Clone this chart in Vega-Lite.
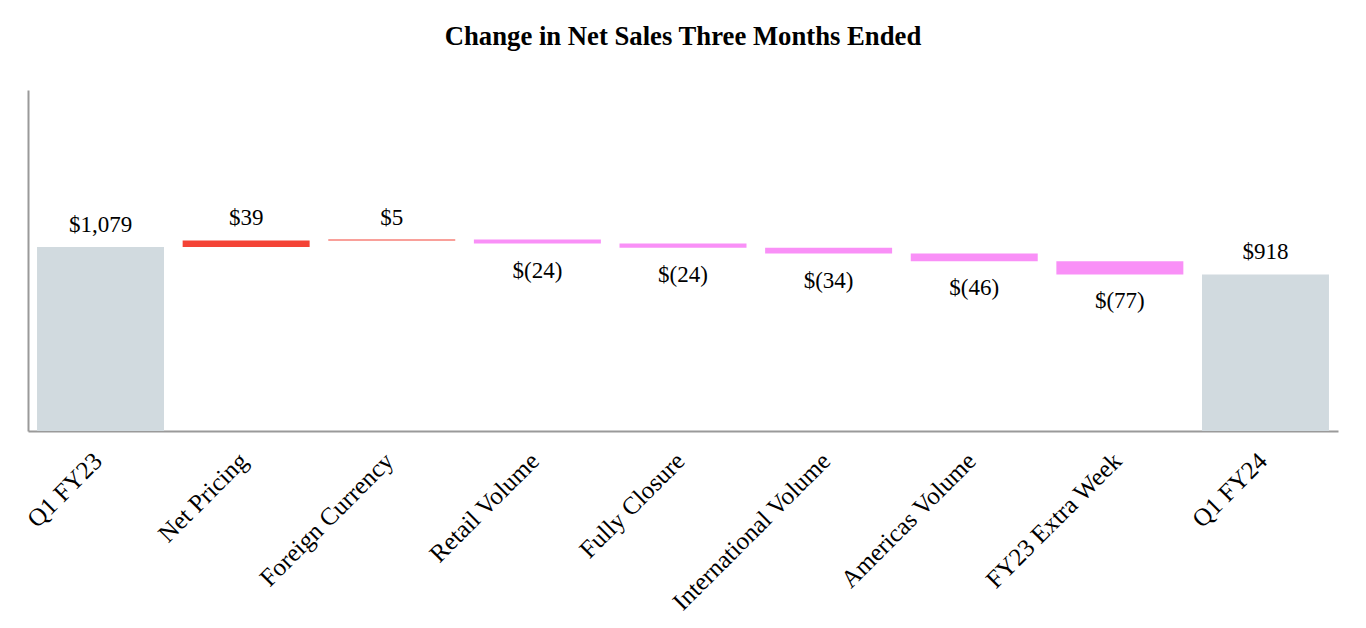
{
  "$schema": "https://vega.github.io/schema/vega-lite/v6.json",
  "width": 1310,
  "height": 341,
  "autosize": {"type": "none"},
  "padding": {"left": 28, "top": 90, "right": 28, "bottom": 197},
  "background": "white",
  "title": {
    "text": "Change in Net Sales Three Months Ended",
    "font": "Liberation Serif",
    "fontSize": 26.7,
    "fontWeight": "bold",
    "color": "black",
    "anchor": "middle",
    "baseline": "alphabetic",
    "offset": 18
  },
  "data": {
    "values": [
      {"category": "Q1 FY23", "start": 0, "end": 1079, "label": "$1,079", "kind": "total"},
      {"category": "Net Pricing", "start": 1079, "end": 1118, "label": "$39", "kind": "increase"},
      {"category": "Foreign Currency", "start": 1118, "end": 1123, "label": "$5", "kind": "increase"},
      {"category": "Retail Volume", "start": 1123, "end": 1099, "label": "$(24)", "kind": "decrease"},
      {"category": "Fully Closure", "start": 1099, "end": 1075, "label": "$(24)", "kind": "decrease"},
      {"category": "International Volume", "start": 1075, "end": 1041, "label": "$(34)", "kind": "decrease"},
      {"category": "Americas Volume", "start": 1041, "end": 995, "label": "$(46)", "kind": "decrease"},
      {"category": "FY23 Extra Week", "start": 995, "end": 918, "label": "$(77)", "kind": "decrease"},
      {"category": "Q1 FY24", "start": 0, "end": 918, "label": "$918", "kind": "total"}
    ]
  },
  "encoding": {
    "x": {
      "field": "category",
      "type": "nominal",
      "sort": null,
      "scale": {"paddingInner": 0.128, "paddingOuter": 0.062},
      "axis": {
        "title": null,
        "labelAngle": -45,
        "labelFont": "Liberation Serif",
        "labelFontSize": 25,
        "labelColor": "black",
        "labelPadding": 17,
        "labelOffset": -11,
        "labelLimit": 0,
        "ticks": false,
        "domainColor": "#9a9a9a",
        "domainWidth": 2,
        "grid": false
      }
    }
  },
  "layer": [
    {
      "mark": {"type": "bar"},
      "encoding": {
        "y": {
          "field": "start",
          "type": "quantitative",
          "scale": {"domain": [0, 2000], "nice": false},
          "axis": {
            "title": null,
            "labels": false,
            "ticks": false,
            "grid": false,
            "domainColor": "#9a9a9a",
            "domainWidth": 2
          }
        },
        "y2": {"field": "end"},
        "color": {
          "field": "kind",
          "type": "nominal",
          "scale": {"domain": ["total", "increase", "decrease"], "range": ["#d1dadf", "#f44336", "#f990f7"]},
          "legend": null
        }
      }
    },
    {
      "transform": [{"filter": "datum.kind !== 'decrease'"}],
      "mark": {"type": "text", "font": "Liberation Serif", "fontSize": 23, "color": "black", "baseline": "alphabetic", "dy": -15},
      "encoding": {
        "y": {"field": "end", "type": "quantitative"},
        "text": {"field": "label"}
      }
    },
    {
      "transform": [{"filter": "datum.kind === 'decrease'"}],
      "mark": {"type": "text", "font": "Liberation Serif", "fontSize": 23, "color": "black", "baseline": "alphabetic", "dy": 34},
      "encoding": {
        "y": {"field": "end", "type": "quantitative"},
        "text": {"field": "label"}
      }
    }
  ],
  "config": {
    "view": {"stroke": null}
  }
}
